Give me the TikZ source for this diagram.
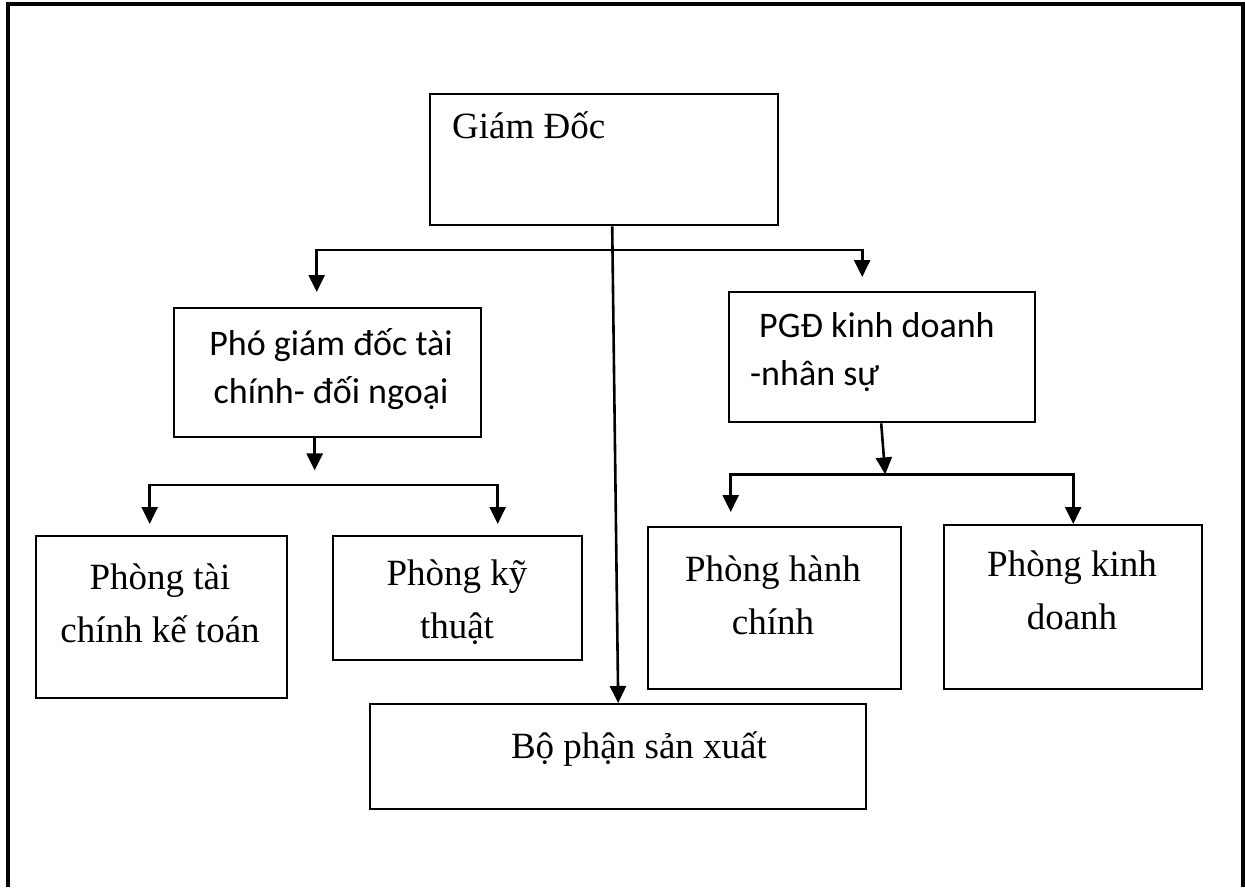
\documentclass[tikz,border=0pt]{standalone}
\usepackage{fontspec}
\setmainfont{Liberation Serif}
\newfontfamily\uisans{Carlito}
\usetikzlibrary{arrows.meta,calc}

\begin{document}
\begin{tikzpicture}[x=1pt,y=-1pt,
  box/.style={draw,line width=2.4pt,rectangle,inner sep=0pt,anchor=north west},
  serif/.style={font=\fontsize{37pt}{53pt}\selectfont,inner sep=0pt,align=center},
  sanstext/.style={font=\uisans\fontsize{36pt}{48pt}\selectfont,inner sep=0pt},
  conn/.style={line width=2.6pt,-{Triangle[width=16pt,length=17pt]}},
  fork/.style={line width=2.6pt,{Triangle[width=16pt,length=17pt]}-{Triangle[width=16pt,length=17pt]}},
]
\useasboundingbox (0,0) rectangle (1245,887);

% page frame, open at the bottom
\draw[line width=4pt] (8,887) -- (8,4) -- (1243,4) -- (1243,887);

% boxes
\node[box,minimum width=348pt,minimum height=131pt] (gd)  at (429,93)  {};
\node[box,minimum width=307pt,minimum height=129pt] (pho) at (173,307) {};
\node[box,minimum width=306pt,minimum height=130pt] (pgd) at (728,291) {};
\node[box,minimum width=251pt,minimum height=162pt] (ptc) at (35,535)  {};
\node[box,minimum width=249pt,minimum height=124pt] (pkt) at (332,535) {};
\node[box,minimum width=253pt,minimum height=162pt] (phc) at (647,526) {};
\node[box,minimum width=258pt,minimum height=164pt] (pkd) at (943,524) {};
\node[box,minimum width=496pt,minimum height=105pt] (bp)  at (369,703) {};

% labels (multi-line labels are anchored on their last baseline)
\node[serif,anchor=base west] (tgd) at (452,138) {Giám Đốc};
\node[sanstext,align=center,anchor=base] (tpho) at (331,403) {Phó giám đốc tài\\chính- đối ngoại};
\node[sanstext,align=left,anchor=base west] (tpgd) at (750,385) {\hspace*{9pt}PGĐ kinh doanh\\-nhân sự};
\node[serif,anchor=base] (tptc) at (160,642) {Phòng tài\\chính kế toán};
\node[serif,anchor=base] (tpkt) at (457,638) {Phòng kỹ\\thuật};
\node[serif,anchor=base] (tphc) at (773,634) {Phòng hành\\chính};
\node[serif,anchor=base] (tpkd) at (1072,629) {Phòng kinh\\doanh};
\node[serif,anchor=base] (tbp) at (639,758) {Bộ phận sản xuất};

% director to the production unit
\draw[conn] ($(gd.south)+(8,0)$) -- (bp.north);

% director to the two deputies
\coordinate (aPho) at ($(pho.north)+(-11,-15)$);
\coordinate (aPgd) at ($(pgd.north)+(-20,-14)$);
\draw[fork] (aPho) |- ($(aPgd)+(0,-27)$) -- (aPgd);

% finance deputy to its departments
\coordinate (jPho) at ($(pho.south)+(-13,32)$);
\draw[conn] ($(pho.south)+(-13,0)$) -- (jPho);
\coordinate (aPtc) at ($(ptc.north)+(-12,-11)$);
\coordinate (aPkt) at ($(pkt.north)+(40,-11)$);
\draw[fork] (aPtc) |- ($(aPkt)+(0,-39)$) -- (aPkt);

% business deputy to its departments
\coordinate (jPgd) at ($(pgd.south)+(3,51)$);
\draw[conn] ($(pgd.south)+(-1,0)$) -- (jPgd);
\coordinate (aPhc) at ($(phc.north)+(-44,-14)$);
\draw[fork] (aPhc) |- (jPgd) -| (pkd.north);
\end{tikzpicture}
\end{document}
